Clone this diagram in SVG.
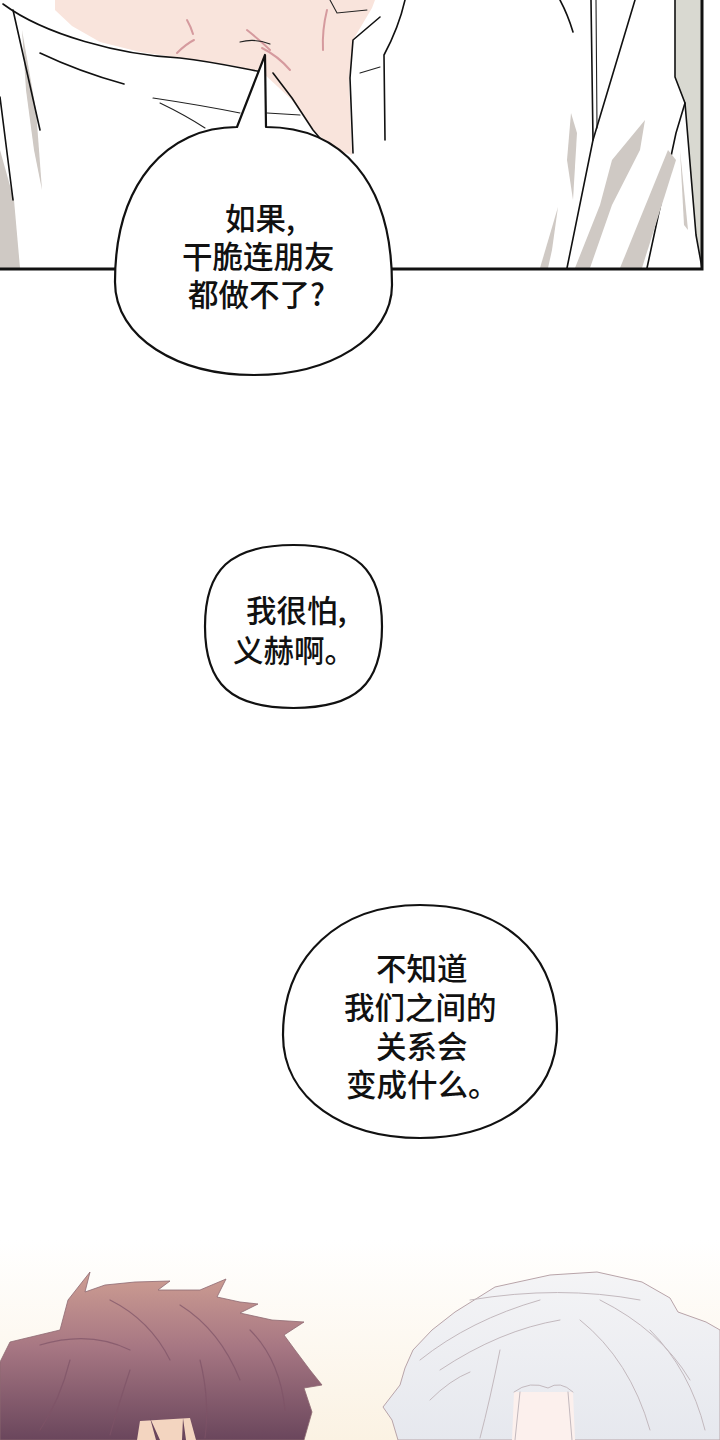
<svg xmlns="http://www.w3.org/2000/svg" width="720" height="1440" viewBox="0 0 720 1440">
<defs>
<style>
.ln{fill:none;stroke:#111;stroke-width:1.6;stroke-linecap:round;stroke-linejoin:round}
.thin{fill:none;stroke:#222;stroke-width:1.1;stroke-linecap:round}
.pk{fill:none;stroke:#d59a9e;stroke-width:2;stroke-linecap:round}
.gr{fill:#cfc9c4}
.bub{fill:#fff;stroke:#111;stroke-width:2.2;stroke-linejoin:round}
.tx{font-family:"Noto Sans CJK SC","Noto Sans CJK JP",sans-serif;font-size:30.5px;font-weight:500;fill:#111}
.hs{fill:none;stroke:#7d5266;stroke-width:1.2;stroke-linecap:round;opacity:.7}
.ws{fill:none;stroke:#c3b9be;stroke-width:1;stroke-linecap:round}
</style>
<clipPath id="topclip"><rect x="0" y="0" width="702" height="269"/></clipPath>
<linearGradient id="bg2" x1="0" y1="0" x2="0" y2="1"><stop offset="0" stop-color="#ffffff"/><stop offset="1" stop-color="#fbf2e3"/></linearGradient>
<linearGradient id="hairL" x1="0" y1="1270" x2="0" y2="1440" gradientUnits="userSpaceOnUse"><stop offset="0" stop-color="#cf9f93"/><stop offset="0.45" stop-color="#a77783"/><stop offset="1" stop-color="#6a465c"/></linearGradient>
<linearGradient id="hairR" x1="0" y1="1270" x2="0" y2="1440" gradientUnits="userSpaceOnUse"><stop offset="0" stop-color="#f4f4f6"/><stop offset="1" stop-color="#e6e8ee"/></linearGradient>
</defs>
<rect width="720" height="1440" fill="#fff"/>

<g id="top-panel">
<g clip-path="url(#topclip)">
<path d="M55,0 L375,0 L372,8 L353,40 L349,80 L352,155 L335,150 L313,130 L292,100 L262,72 L230,65 L180,58 L140,52 L100,42 L72,26 L55,10 Z" fill="#f9e4dc"/>
<path class="pk" d="M177,53 Q186,44 194,40"/>
<path class="pk" d="M187,20 Q191,27 193,34"/>
<path class="pk" d="M247,30 Q262,42 270,50" stroke-width="2.5"/>
<path class="pk" d="M262,48 Q278,56 290,70" stroke-width="3"/>
<path class="pk" d="M327,10 Q322,30 323,50"/>
<path class="thin" d="M330,0 L337,13 L367,10"/>
<path class="thin" d="M240,42 Q255,38 270,44"/>
<path class="ln" d="M3,4 C45,35 120,55 180,58 C215,62 240,68 262,72"/>
<path class="ln" d="M40,53 Q80,72 124,84"/>
<path class="thin" d="M153,98 Q200,105 240,113"/>
<path class="thin" d="M160,103 Q185,115 205,128"/>
<path class="thin" d="M267,113 L300,115"/>
<path class="ln" d="M273,73 L292,98 L313,130 L330,150"/>
<path class="ln" d="M380,17 L353,40 L350,78 L353,153"/>
<path class="thin" d="M380,67 L360,73"/>
<path class="gr" d="M22,30 L36,110 L42,190 L34,150 L26,90 Z"/>
<path class="gr" d="M0,150 L14,200 L20,268 L0,268 Z"/>
<path class="ln" d="M13,10 L40,130"/>
<path class="ln" d="M0,97 L13,200"/>
<path class="ln" d="M405,0 C400,22 392,40 384,55 L385,140"/>
<path class="ln" d="M560,0 Q568,15 573,32"/>
<path class="ln" d="M591,0 L593,140"/>
<path class="thin" d="M596,0 L597,128"/>
<path class="ln" d="M635,0 L593,140 L567,268"/>
<path class="ln" d="M623,157 L580,268"/>
<path d="M675,0 L702,0 L702,260 L696,235 L685,103 L675,77 Z" fill="#d9d9d1"/>
<path class="ln" d="M675,0 L675,77 L685,103 L676,133 L647,268"/>
<path class="ln" d="M685,103 L696,235 L702,268"/>
<path class="gr" d="M571,113 L577,133 L573,200 L567,160 Z"/>
<path class="gr" d="M645,120 L612,160 L600,205 L575,268 L590,268 L612,205 L640,150 Z"/>
<path class="gr" d="M668,150 L676,160 L642,268 L620,268 Z"/>
<path class="gr" d="M680,150 L688,230 L684,225 Z"/>
<path class="gr" d="M540,268 L558,207 L552,250 L548,268 Z"/>
</g>
<path d="M0,269 L702,269 L702,0" fill="none" stroke="#111" stroke-width="3"/>
</g>

<g id="bubble-1">
<path class="bub" d="M266,127 C340,127 392,180 392,285 C392,338 330,375 254,375 C178,375 115,338 115,282 C115,182 168,127 237,127 L265,55 Z"/>
<text class="tx" x="225" y="230">如果,</text>
<text class="tx" x="182" y="268">干脆连朋友</text>
<text class="tx" x="188" y="306">都做不了?</text>
</g>

<g id="bubble-2">
<path class="bub" d="M293.5,545 C357,545 382,570 382,626.5 C382,685 355,708 293.5,708 C232,708 205,685 205,626.5 C205,570 230,545 293.5,545 Z"/>
<text class="tx" x="246" y="622">我很怕,</text>
<text class="tx" x="233" y="662">义赫啊。</text>
</g>

<g id="bubble-3">
<path class="bub" d="M420,905 C500,905 557,950 557,1030 C557,1100 495,1138 420,1138 C345,1138 283,1100 283,1035 C283,955 340,905 420,905 Z"/>
<text class="tx" x="376" y="980">不知道</text>
<text class="tx" x="344" y="1019">我们之间的</text>
<text class="tx" x="376" y="1058">关系会</text>
<text class="tx" x="346" y="1096">变成什么。</text>
</g>

<g id="bottom-panel">
<rect x="0" y="1240" width="720" height="200" fill="url(#bg2)"/>
<path d="M0,1440 L0,1362 L10,1342 L35,1336 L60,1330 L68,1300 L90,1272 L85,1292 L105,1285 L135,1282 L170,1281 L158,1290 L200,1290 L226,1279 L217,1297 L240,1302 L258,1304 L240,1313 L272,1320 L304,1322 L284,1335 L295,1350 L310,1370 L322,1385 L304,1388 L312,1412 L304,1440 Z" fill="url(#hairL)" stroke="#8e6a72" stroke-width="0.8"/>
<path class="hs" d="M40,1345 Q90,1330 130,1350"/>
<path class="hs" d="M110,1300 Q150,1320 170,1360"/>
<path class="hs" d="M180,1305 Q220,1330 240,1380"/>
<path class="hs" d="M70,1360 Q60,1400 40,1430"/>
<path class="hs" d="M250,1330 Q280,1360 285,1410"/>
<path class="hs" d="M130,1370 Q120,1400 110,1435"/>
<path class="hs" d="M200,1360 Q210,1400 205,1438"/>
<path d="M140,1421 L190,1418 L196,1440 L137,1440 Z" fill="#f3d5c0"/>
<path d="M150,1418 L156,1440 L160,1440 Z M183,1418 L182,1440 L186,1440 Z" fill="#6a465c"/>
<path d="M398,1440 L392,1420 L383,1407 L400,1385 L405,1368 L413,1350 L432,1330 L455,1312 L495,1287 L550,1275 L597,1272 L642,1282 L670,1298 L678,1312 L706,1322 L720,1330 L720,1440 Z" fill="url(#hairR)" stroke="#b8a4a9" stroke-width="1"/>
<path class="ws" d="M420,1360 Q470,1320 540,1300"/>
<path class="ws" d="M440,1370 Q500,1330 560,1320"/>
<path class="ws" d="M470,1300 Q560,1285 640,1300"/>
<path class="ws" d="M600,1300 Q660,1330 690,1380"/>
<path class="ws" d="M580,1320 Q630,1360 650,1430"/>
<path class="ws" d="M650,1330 Q690,1370 705,1430"/>
<path class="ws" d="M430,1400 Q450,1380 470,1372"/>
<path class="ws" d="M500,1350 Q490,1400 480,1438"/>
<path d="M514,1392 L573,1392 L575,1440 L512,1440 Z" fill="#fcf0ed"/>
<path class="ws" d="M514,1392 Q530,1380 548,1388 Q560,1380 573,1392"/>
<path class="ws" d="M520,1392 L515,1440 M568,1392 L572,1440"/>
</g>
</svg>
